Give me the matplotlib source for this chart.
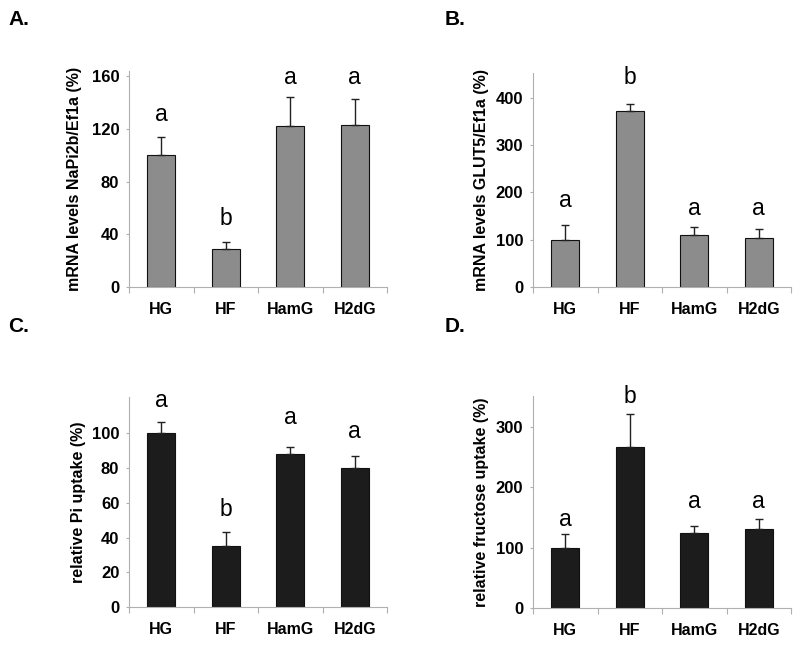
import matplotlib
matplotlib.use('Agg')
import matplotlib.pyplot as plt

plt.rcParams['font.family'] = ['Liberation Sans', 'DejaVu Sans']

# Datos
grupos = ['HG', 'HF', 'HamG', 'H2dG']

napi_vals = [100, 29, 122, 123]
napi_err = [14, 5, 22, 20]
napi_letras = ['a', 'b', 'a', 'a']
napi_letra_y = [131, 52, 159, 159]

glut_vals = [100, 372, 109, 103]
glut_err = [30, 15, 17, 19]
glut_letras = ['a', 'b', 'a', 'a']
glut_letra_y = [183, 443, 165, 165]

pi_vals = [100.5, 35, 88, 80]
pi_err = [6, 8, 4, 7]
pi_letras = ['a', 'b', 'a', 'a']
pi_letra_y = [119, 56, 109, 101]

fru_vals = [100, 267, 125, 131]
fru_err = [23, 54, 11, 16]
fru_letras = ['a', 'b', 'a', 'a']
fru_letra_y = [146, 350, 176, 176]

GRIS = '#8c8c8c'
NEGRO = '#1c1c1c'
EJE = '#b0b0b0'

W, H = 800, 645
fig = plt.figure(figsize=(W / 100, H / 100), dpi=100)


def panel(px, etiqueta, titulo, vals, err, letras, letra_y, color, yticks, ymax, labelpad):
    x0, x1, y0, y1 = px
    ax = fig.add_axes([x0 / W, 1 - y0 / H, (x1 - x0) / W, (y0 - y1) / H])
    xs = range(len(vals))
    ax.bar(xs, vals, width=0.43, color=color, edgecolor='#111111', linewidth=0.8, zorder=2)
    ax.errorbar(xs, vals, yerr=[[0] * len(err), err], fmt='none', ecolor='#222222',
                elinewidth=1, capsize=3, capthick=1, zorder=3)
    for x, l, y in zip(xs, letras, letra_y):
        ax.text(x, y, l, ha='center', va='center', fontsize=16.5)
    ax.set_xlim(-0.5, len(vals) - 0.5)
    ax.set_ylim(0, ymax)
    ax.set_yticks(yticks)
    ax.set_yticklabels([str(t) for t in yticks], fontsize=12, fontweight='bold')
    ax.set_xticks([i - 0.5 for i in range(len(vals) + 1)])
    ax.set_xticklabels([])
    ax.set_xticks(list(xs), minor=True)
    ax.set_xticklabels(grupos, minor=True, fontsize=11.5, fontweight='bold')
    ax.tick_params(axis='x', which='minor', length=0, pad=11)
    ax.tick_params(axis='x', which='major', length=4, color=EJE, width=0.8)
    ax.tick_params(axis='y', length=2, color=EJE, width=0.8, pad=5)
    for s in ['top', 'right']:
        ax.spines[s].set_visible(False)
    for s in ['left', 'bottom']:
        ax.spines[s].set_color(EJE)
        ax.spines[s].set_linewidth(0.8)
    ax.set_ylabel(titulo, fontsize=11.5, fontweight='bold', labelpad=labelpad)
    fig.text(etiqueta[1] / W, 1 - etiqueta[2] / H, etiqueta[0], fontsize=15,
             fontweight='bold', ha='left', va='top')
    return ax


panel((129, 387, 287, 71), ('A.', 8, 10), 'mRNA levels NaPi2b/Ef1a (%)',
      napi_vals, napi_err, napi_letras, napi_letra_y, GRIS, [0, 40, 80, 120, 160], 164, 7)
panel((533, 791, 287, 73), ('B.', 445, 10), 'mRNA levels GLUT5/Ef1a (%)',
      glut_vals, glut_err, glut_letras, glut_letra_y, GRIS, [0, 100, 200, 300, 400], 452, 5)
panel((129, 387, 607, 397), ('C.', 8, 317), 'relative Pi uptake (%)',
      pi_vals, pi_err, pi_letras, pi_letra_y, NEGRO, [0, 20, 40, 60, 80, 100], 121, 4)
panel((533, 791, 608, 396), ('D.', 445, 317), 'relative fructose uptake (%)',
      fru_vals, fru_err, fru_letras, fru_letra_y, NEGRO, [0, 100, 200, 300], 351, 5)

fig.savefig('out.png', dpi=100, facecolor='white')
